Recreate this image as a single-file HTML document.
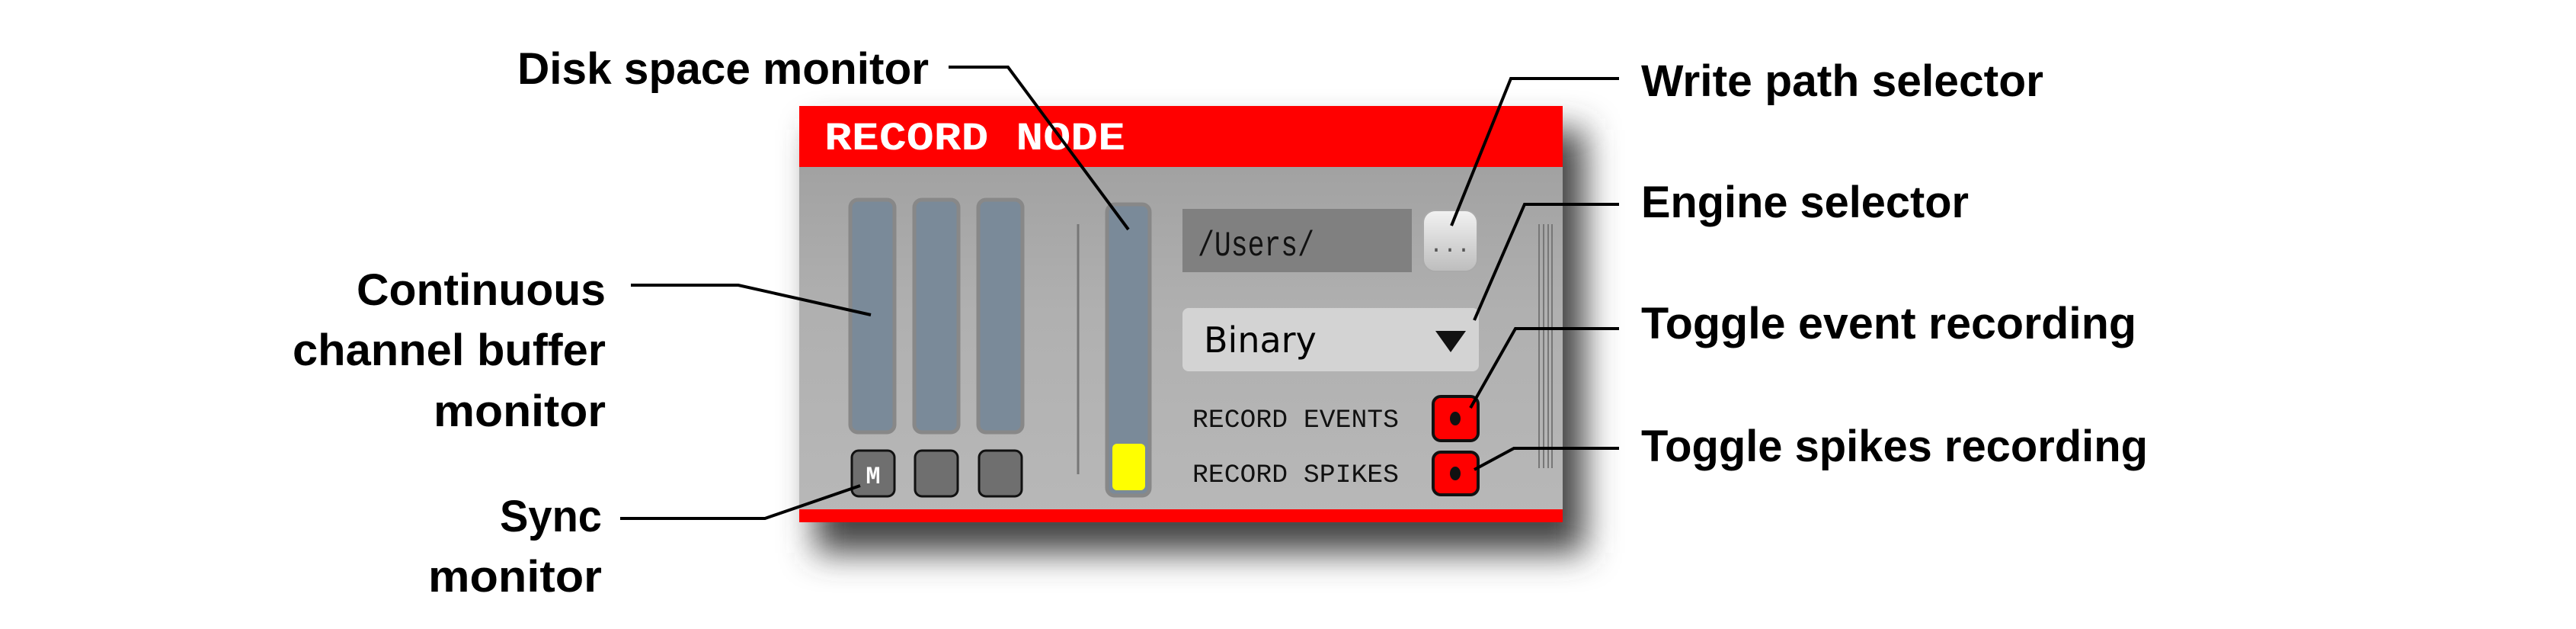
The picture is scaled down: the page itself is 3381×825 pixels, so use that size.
<!DOCTYPE html>
<html><head><meta charset="utf-8"><style>
html,body{margin:0;padding:0;background:#fff;}
svg{display:block;}
.lbl{font-family:"Liberation Sans",sans-serif;font-weight:bold;font-size:58px;fill:#000;}
.mono{font-family:"Liberation Mono",monospace;}
</style></head><body>
<svg width="3381" height="825" viewBox="0 0 3381 825" xmlns="http://www.w3.org/2000/svg">
<defs>
<filter id="sh" x="-20%" y="-20%" width="140%" height="160%"><feGaussianBlur stdDeviation="22"/></filter>
<linearGradient id="body" x1="0" y1="0" x2="0" y2="1"><stop offset="0" stop-color="#9c9c9c"/><stop offset="0.5" stop-color="#b0b0b0"/><stop offset="1" stop-color="#b8b8b8"/></linearGradient>
<linearGradient id="btn" x1="0" y1="0" x2="0" y2="1"><stop offset="0" stop-color="#f2f2f2"/><stop offset="1" stop-color="#bdbdbd"/></linearGradient>
</defs>
<g>
<rect x="1070" y="170" width="1010" height="555" fill="#444" filter="url(#sh)"/>
<rect x="1049" y="139" width="1002" height="546" fill="url(#body)"/>
<rect x="1049" y="139" width="1002" height="80" fill="#ff0000"/>
<text class="mono" x="1082" y="196" font-size="52" font-weight="bold" fill="#fff" textLength="395" lengthAdjust="spacingAndGlyphs">RECORD NODE</text>
<rect x="1049" y="668" width="1002" height="17" fill="#ff0000"/>
<g>
<rect x="1116" y="262" width="58" height="305" rx="10" fill="#7a8a99" stroke="#888" stroke-width="5"/>
<rect x="1200" y="262" width="58" height="305" rx="10" fill="#7a8a99" stroke="#888" stroke-width="5"/>
<rect x="1284" y="262" width="58" height="305" rx="10" fill="#7a8a99" stroke="#888" stroke-width="5"/>
</g>
<g>
<rect x="1118" y="591" width="56" height="60" rx="9" fill="#6f6f6f" stroke="#111" stroke-width="3"/>
<text class="mono" x="1146" y="634" font-size="32" font-weight="bold" fill="#fff" text-anchor="middle">M</text>
<rect x="1201" y="591" width="56" height="60" rx="9" fill="#6f6f6f" stroke="#111" stroke-width="3"/>
<rect x="1285" y="591" width="56" height="60" rx="9" fill="#6f6f6f" stroke="#111" stroke-width="3"/>
</g>
<line x1="1415" y1="294" x2="1415" y2="622" stroke="#777" stroke-width="3"/>
<rect x="1453" y="268" width="56" height="382" rx="10" fill="#7a8a99" stroke="#888" stroke-width="5"/>
<rect x="1460" y="582" width="43" height="61" rx="6" fill="#ffff00"/>
<rect x="1552" y="274" width="301" height="83" fill="#808080"/>
<text class="mono" x="1572" y="335" font-size="46" fill="#111" textLength="153" lengthAdjust="spacingAndGlyphs">/Users/</text>
<rect x="1868" y="276" width="71" height="80" rx="16" fill="url(#btn)" stroke="#aaa" stroke-width="2"/>
<text class="mono" x="1903" y="330" font-size="30" fill="#555" text-anchor="middle">...</text>
<rect x="1552" y="404" width="389" height="83" rx="8" fill="#d3d3d3"/>
<text font-family="'DejaVu Sans',sans-serif" x="1580" y="462" font-size="46" fill="#000">Binary</text>
<polygon points="1884,434 1924,434 1904,462" fill="#111"/>
<text class="mono" x="1565" y="560" font-size="34" fill="#111" textLength="271" lengthAdjust="spacingAndGlyphs">RECORD EVENTS</text>
<text class="mono" x="1565" y="632" font-size="34" fill="#111" textLength="271" lengthAdjust="spacingAndGlyphs">RECORD SPIKES</text>
<rect x="1881" y="520" width="59" height="58" rx="10" fill="#ff0000" stroke="#111" stroke-width="4"/>
<ellipse cx="1910" cy="549" rx="7" ry="9" fill="#111"/>
<rect x="1881" y="593" width="59" height="56" rx="10" fill="#ff0000" stroke="#111" stroke-width="4"/>
<ellipse cx="1910" cy="621" rx="7" ry="9" fill="#111"/>
<g stroke="#777" stroke-width="2">
<line x1="2020" y1="294" x2="2020" y2="614"/><line x1="2026" y1="294" x2="2026" y2="614"/><line x1="2032" y1="294" x2="2032" y2="614"/><line x1="2037" y1="294" x2="2037" y2="614"/>
</g>
</g>
<g fill="none" stroke="#000" stroke-width="4">
<polyline points="1245,88 1323,88 1481,301"/>
<polyline points="828,374 969,374 1143,413"/>
<polyline points="814,680 1004,680 1129,637"/>
<polyline points="1905,296 1983,103 2125,103"/>
<polyline points="1935,420 2001,268 2125,268"/>
<polyline points="1930,535 1989,431 2125,431"/>
<polyline points="1935,616 1987,588 2125,588"/>
</g>
<g>
<text class="lbl" x="679" y="110" textLength="540" lengthAdjust="spacingAndGlyphs">Disk space monitor</text>
<text class="lbl" x="795" y="400" text-anchor="end" textLength="327" lengthAdjust="spacingAndGlyphs">Continuous</text>
<text class="lbl" x="795" y="479" text-anchor="end" textLength="411" lengthAdjust="spacingAndGlyphs">channel buffer</text>
<text class="lbl" x="795" y="559" text-anchor="end" textLength="226" lengthAdjust="spacingAndGlyphs">monitor</text>
<text class="lbl" x="790" y="697" text-anchor="end" textLength="134" lengthAdjust="spacingAndGlyphs">Sync</text>
<text class="lbl" x="790" y="776" text-anchor="end" textLength="228" lengthAdjust="spacingAndGlyphs">monitor</text>
<text class="lbl" x="2154" y="126" textLength="528" lengthAdjust="spacingAndGlyphs">Write path selector</text>
<text class="lbl" x="2154" y="285" textLength="430" lengthAdjust="spacingAndGlyphs">Engine selector</text>
<text class="lbl" x="2154" y="444" textLength="650" lengthAdjust="spacingAndGlyphs">Toggle event recording</text>
<text class="lbl" x="2154" y="605" textLength="665" lengthAdjust="spacingAndGlyphs">Toggle spikes recording</text>
</g>
</svg>
</body></html>
